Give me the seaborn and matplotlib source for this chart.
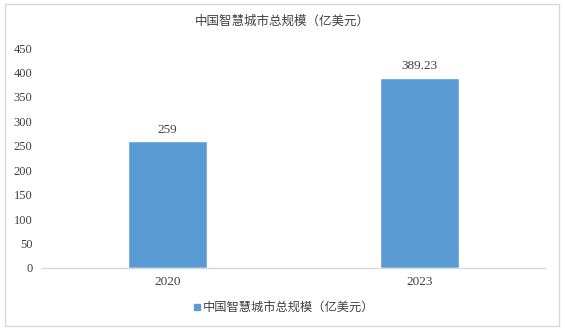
import matplotlib
matplotlib.use("Agg")
import matplotlib.pyplot as plt
import seaborn as sns
import pandas as pd
from matplotlib.patches import Rectangle
from matplotlib.lines import Line2D

years = ["2020", "2023"]
values = [259, 389.23]
value_labels = ["259", "389.23"]
series_name = "中国智慧城市总规模（亿美元）"
yticks = [0, 50, 100, 150, 200, 250, 300, 350, 400, 450]

sns.set_theme(style="white")
plt.rcParams['font.family'] = ['Noto Sans CJK SC', 'DejaVu Sans']

df = pd.DataFrame({"year": years, "value": values})
color = "#5B9BD5"

fig = plt.figure(figsize=(5.65, 3.3), dpi=100)
ax = fig.add_axes([0.0743, 0.1879, 0.8903, 0.6666])
sns.barplot(data=df, x="year", y="value", color=color, width=0.315,
            saturation=1, ax=ax)

ax.set_ylim(0, 450)
ax.set_yticks(yticks)
ax.set_yticklabels([str(t) for t in yticks], family="Liberation Serif",
                   fontsize=9, color="#404040")
ax.set_xticklabels(years, family="Liberation Serif", fontsize=9.5, color="#404040")
ax.set_xlabel("")
ax.set_ylabel("")
ax.tick_params(axis="both", length=0)
ax.tick_params(axis="y", pad=7)
ax.tick_params(axis="x", pad=6)
for s in ["top", "right", "left"]:
    ax.spines[s].set_visible(False)
ax.spines["bottom"].set_color("#D9D9D9")
ax.spines["bottom"].set_linewidth(1)

for c in ax.containers:
    ax.bar_label(c, labels=value_labels, padding=4, fontsize=9.5,
                 family="Liberation Serif", color="#404040")

fig.text(0.5, 0.936, series_name, ha="center", va="center",
         fontsize=9, color="#404040")

handle = Line2D([], [], marker="s", linestyle="none", markersize=4,
                markerfacecolor=color, markeredgecolor=color)
fig.legend([handle], [series_name], loc="center", bbox_to_anchor=(0.5, 0.067),
           frameon=False, fontsize=8.8, handletextpad=0.0, handlelength=1,
           labelcolor="#404040")

fig.patches.append(Rectangle((0.009, 0.012), 0.981, 0.976, transform=fig.transFigure,
                             fill=False, edgecolor="#D9D9D9", linewidth=1))

fig.savefig("out.png", dpi=100)
